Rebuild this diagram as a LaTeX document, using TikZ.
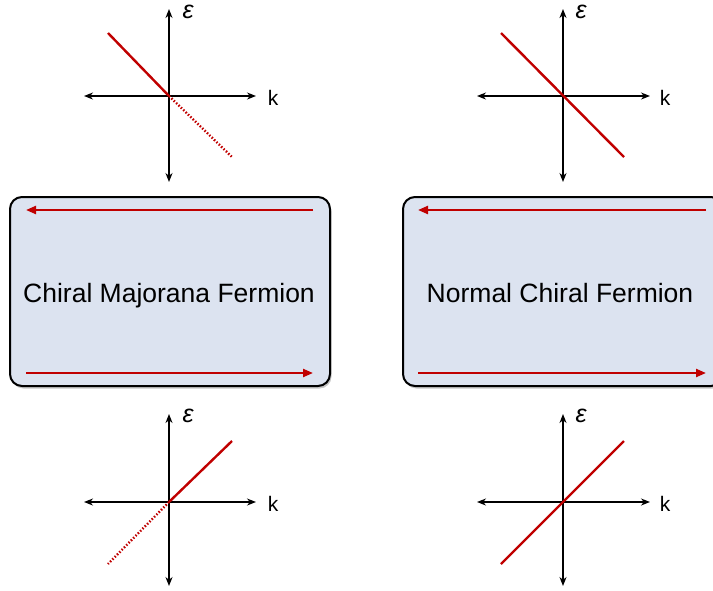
\documentclass[tikz,border=0pt]{standalone}
\usepackage{fontspec}
\setmainfont{Liberation Sans}
\usetikzlibrary{arrows.meta,shadows}
\definecolor{boxfill}{HTML}{DCE3F0}
\definecolor{myred}{HTML}{C00000}
\tikzset{
  axis/.style={line width=1.4pt,-{Stealth[length=9pt,width=7pt]}},
  disp/.style={line width=2.4pt,myred},
  dotdisp/.style={line width=2.4pt,myred,dash pattern=on 1.5pt off 1.8pt},
  edgearrow/.style={line width=2.2pt,myred,-{Triangle[length=10pt,width=8pt]}},
  fbox/.style={draw=black,line width=2pt,fill=boxfill,rounded corners=12pt,
    drop shadow={shadow xshift=1.5pt,shadow yshift=-2.5pt,opacity=0.45}},
  lab/.style={font=\fontsize{21}{22}\selectfont,inner sep=0pt},
  elab/.style={font=\fontsize{25}{26}\selectfont\itshape,inner sep=0pt},
  title/.style={font=\fontsize{26.5}{30}\selectfont,inner sep=0pt,anchor=base}
}
\begin{document}
\begin{tikzpicture}[x=1pt,y=-1pt]
\useasboundingbox (0,0) rectangle (713,590);
\clip (0,0) rectangle (713,590);
% boxes
\draw[fbox] (10,197) rectangle (330,386);
\draw[fbox] (403,197) rectangle (723,386);
\node[title] (t1) at (169,302) {Chiral Majorana Fermion};
\node[title] (t2) at (560,302) {Normal Chiral Fermion};
% edge arrows
\coordinate (a1s) at (313,210); \coordinate (a1e) at (26,210);
\coordinate (a2s) at (26,373); \coordinate (a2e) at (313,373);
\coordinate (a3s) at (706,210); \coordinate (a3e) at (418,210);
\coordinate (a4s) at (418,373); \coordinate (a4e) at (706,373);
\draw[edgearrow] (a1s) -- (a1e);
\draw[edgearrow] (a2s) -- (a2e);
\draw[edgearrow] (a3s) -- (a3e);
\draw[edgearrow] (a4s) -- (a4e);
% top-left
\coordinate (o1) at (169,96);
\coordinate (o1l) at (84,96); \coordinate (o1r) at (256,96);
\coordinate (o1t) at (169,9); \coordinate (o1b) at (169,182);
\draw[axis] (o1) -- (o1l); \draw[axis] (o1) -- (o1r);
\draw[axis] (o1) -- (o1t); \draw[axis] (o1) -- (o1b);
\coordinate (d1a) at (108,33); \coordinate (d1b) at (232,157);
\draw[disp] (d1a) -- (o1); \draw[dotdisp] (o1) -- (d1b);
\node[lab] (k1) at (273,98) {k};
\node[elab] (e1) at (188,12) {ε};
% top-right
\coordinate (o2) at (563,96);
\coordinate (o2l) at (477,96); \coordinate (o2r) at (650,96);
\coordinate (o2t) at (563,9); \coordinate (o2b) at (563,182);
\draw[axis] (o2) -- (o2l); \draw[axis] (o2) -- (o2r);
\draw[axis] (o2) -- (o2t); \draw[axis] (o2) -- (o2b);
\coordinate (d2a) at (501,33); \coordinate (d2b) at (624,157);
\draw[disp] (d2a) -- (d2b);
\node[lab] (k2) at (665,98) {k};
\node[elab] (e2) at (581,12) {ε};
% bottom-left
\coordinate (o3) at (169,502);
\coordinate (o3l) at (84,502); \coordinate (o3r) at (256,502);
\coordinate (o3t) at (169,414); \coordinate (o3b) at (169,586);
\draw[axis] (o3) -- (o3l); \draw[axis] (o3) -- (o3r);
\draw[axis] (o3) -- (o3t); \draw[axis] (o3) -- (o3b);
\coordinate (d3a) at (232,441); \coordinate (d3b) at (108,564);
\draw[disp] (o3) -- (d3a); \draw[dotdisp] (o3) -- (d3b);
\node[lab] (k3) at (273,504) {k};
\node[elab] (e3) at (188,416) {ε};
% bottom-right
\coordinate (o4) at (563,502);
\coordinate (o4l) at (477,502); \coordinate (o4r) at (650,502);
\coordinate (o4t) at (563,414); \coordinate (o4b) at (563,586);
\draw[axis] (o4) -- (o4l); \draw[axis] (o4) -- (o4r);
\draw[axis] (o4) -- (o4t); \draw[axis] (o4) -- (o4b);
\coordinate (d4a) at (624,441); \coordinate (d4b) at (501,564);
\draw[disp] (d4b) -- (d4a);
\node[lab] (k4) at (665,504) {k};
\node[elab] (e4) at (581,416) {ε};
\end{tikzpicture}
\end{document}
